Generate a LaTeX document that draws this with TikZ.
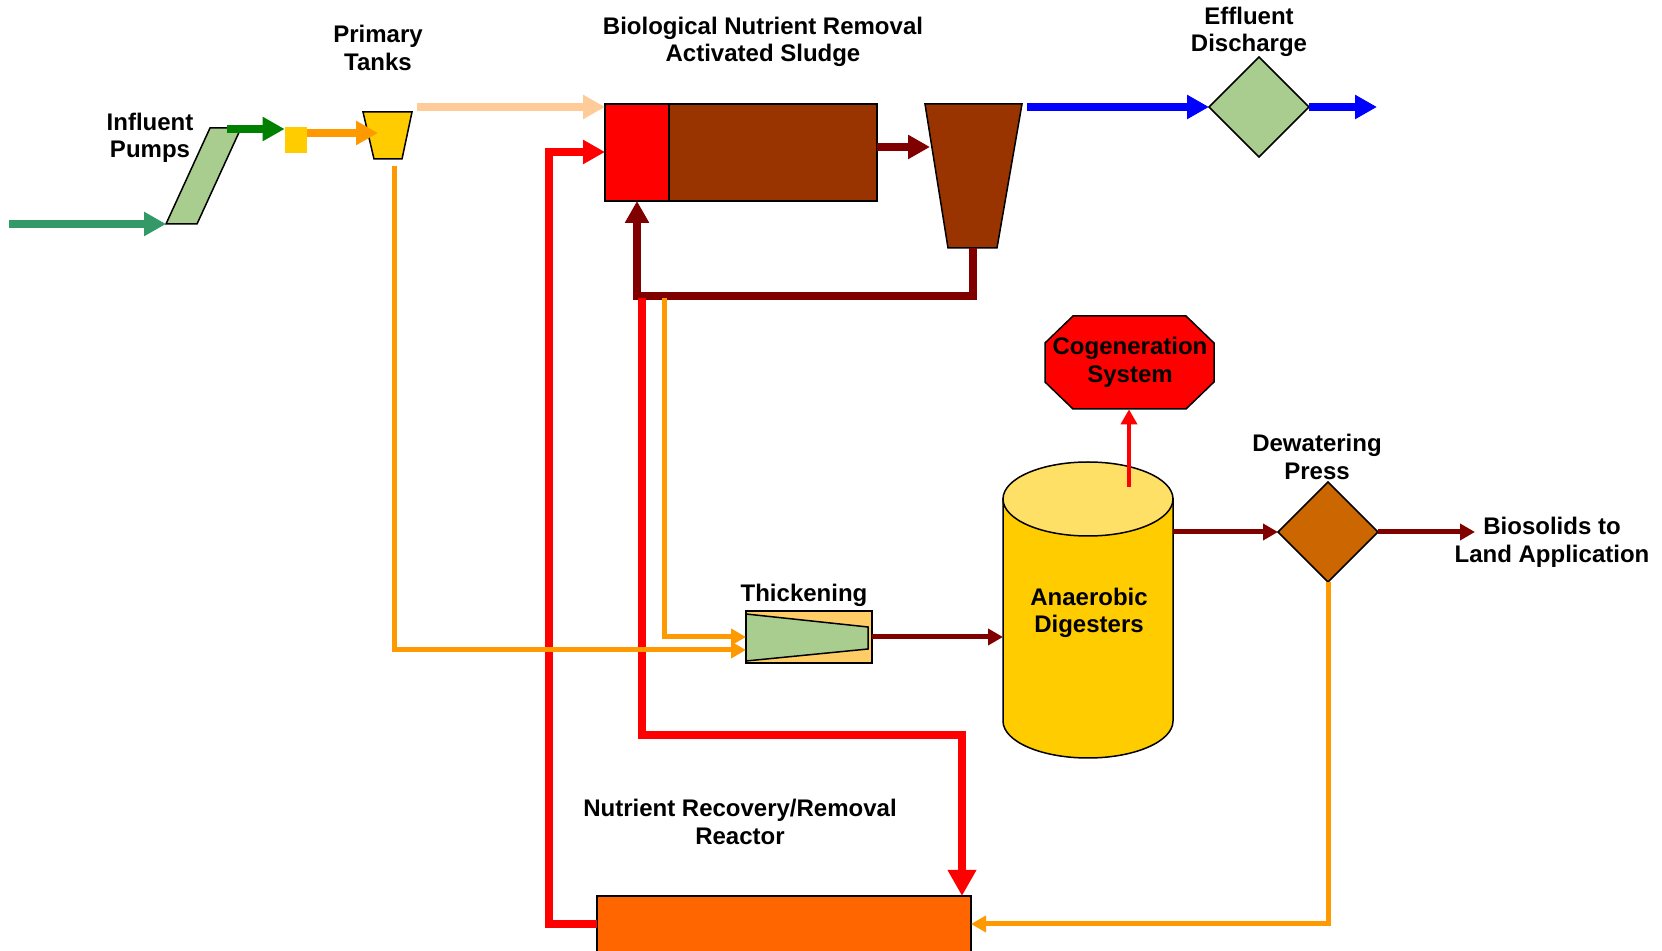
\documentclass[tikz,border=0pt]{standalone}
\usepackage{fontspec}
\setmainfont{Liberation Sans}
\usetikzlibrary{arrows.meta,positioning,shapes.geometric}

\definecolor{inflow}{HTML}{339966}
\definecolor{pumpgreen}{HTML}{A9CD8E}
\definecolor{liftgreen}{HTML}{008000}
\definecolor{tankyellow}{HTML}{FFCC00}
\definecolor{sludgeorange}{HTML}{FF9900}
\definecolor{peach}{HTML}{FFCC99}
\definecolor{mlbrown}{HTML}{993300}
\definecolor{rasred}{HTML}{800000}
\definecolor{thickbox}{HTML}{FFCC66}
\definecolor{digtop}{HTML}{FFE066}
\definecolor{pressbrown}{HTML}{CC6600}
\definecolor{reactororange}{HTML}{FF6600}

\tikzset{unit/.style={draw, line width=0.75pt, inner sep=0pt, outer sep=0pt},
         pipe/.style={line width=3.75pt, -{Triangle[length=11pt,width=11.5pt]}},
         thinpipe/.style={line width=2.5pt, -{Triangle[length=7.5pt,width=8pt]}},
         lbl/.style={align=center, font=\bfseries\fontsize{12}{13.8}\selectfont}}

\begin{document}
\begin{tikzpicture}[x=0.5pt, y=-0.5pt]
\useasboundingbox (0,0) rectangle (1662,951);
\clip (0,0) rectangle (1662,951);

% headworks
\filldraw[fill=pumpgreen, line width=0.75pt] (166,224) coordinate (pumpbl) -- (197,224) -- (241,128) -- (210,128) -- cycle;
\coordinate (inlet) at (9,224);
\coordinate (pumptop) at (227,129);
\node[fill=tankyellow, minimum width=11pt, minimum height=13pt, inner sep=0pt] (grit) at (296,140) {};
\filldraw[fill=tankyellow, line width=0.75pt] (363,112) -- (412,112) -- (402,159) -- (374,159) -- cycle;
\coordinate (ptin) at (378,133);
\coordinate (ptout) at (417,107);
\coordinate (ptunder) at (394,166);

% activated sludge and clarifier
\node[unit, fill=red, minimum width=32pt, minimum height=48.5pt] (bnr) at (637,152.5) {};
\node[unit, fill=mlbrown, minimum width=104pt, minimum height=48.5pt, right=0pt of bnr] (aer) {};
\filldraw[fill=mlbrown, line width=0.75pt] (925,104) -- (1022,104) -- (997,248) -- (948,248) -- cycle;
\coordinate (clarin) at (930,147);
\coordinate (clarbot) at (973,248);
\coordinate (rasturn) at (973,296);
\coordinate (efout) at (1027,107);
\node[unit, diamond, fill=pumpgreen, minimum width=50pt, minimum height=50pt] (eff) at (1259,107) {};
\coordinate (effend) at (1377,107);

% solids train
\node[unit, fill=thickbox, minimum width=63pt, minimum height=26pt] (thk) at (809,637) {};
\filldraw[fill=pumpgreen, line width=0.75pt] (746,614) -- (868,627) -- (868,649) -- (746,661) -- cycle;
\filldraw[fill=tankyellow, line width=0.75pt] (1003,499) -- (1003,721) arc[start angle=180, end angle=0, x radius=85, y radius=37] -- (1173,499) -- cycle;
\filldraw[fill=digtop, line width=0.75pt] (1088,499) ellipse[x radius=85, y radius=37];
\node[lbl] (dig) at (1089,613) {Anaerobic\\Digesters};
\coordinate (digin) at (1003,637);
\coordinate (digout) at (1173,532);
\coordinate (gasout) at (1129,487);
\filldraw[fill=red, line width=0.75pt] (1073,316) -- (1186,316) -- (1214,343) -- (1214,382) -- (1186,409)
   -- (1073,409) -- (1045,382) -- (1045,343) -- cycle;
\node[lbl, inner sep=0pt, minimum height=46.5pt] (cog) at (1130,362.5) {Cogeneration\\System};
\node[unit, diamond, fill=pressbrown, minimum width=50pt, minimum height=50pt] (press) at (1328,532) {};
\coordinate (bioend) at (1475,532);
\node[unit, fill=reactororange, minimum width=187pt, minimum height=28pt] (reac) at (784,924) {};
\coordinate (recyc) at (549,152);
\coordinate (nrtop) at (642,298);
\coordinate (nrturn) at (642,735);
\coordinate (wastop) at (664,298);

% flows
\draw[pipe, inflow] (inlet) -- (pumpbl);
\draw[pipe, liftgreen] (pumptop) -- (pumptop -| grit.west);
\draw[pipe, sludgeorange] (grit.east |- ptin) -- (ptin);
\draw[pipe, peach] (ptout) -- (ptout -| bnr.west);
\draw[pipe, rasred] (aer.east |- clarin) -- (clarin);
\draw[pipe, rasred] (clarbot) -- (rasturn) -| (bnr.south);
\draw[pipe, blue] (efout) -- (eff.west);
\draw[pipe, blue] (eff.east) -- (effend);
\draw[pipe, red] (reac.west) -| (recyc) -- (bnr.west |- recyc);
\draw[line width=3.75pt, red, -{Triangle[length=13pt,width=13.5pt]}] (nrtop) -- (nrturn) -| ([xshift=-4.5pt]reac.north east);
\draw[thinpipe, sludgeorange] (ptunder) |- ([yshift=-6.5pt]thk.west);
\draw[thinpipe, sludgeorange] (wastop) |- (thk.west);
\draw[thinpipe, rasred] (thk.east) -- (digin);
\draw[thinpipe, red, line width=2pt] (gasout) -- (gasout |- cog.south);
\draw[thinpipe, rasred] (digout) -- (press.west);
\draw[thinpipe, rasred] (press.east) -- (bioend);
\draw[thinpipe, sludgeorange] (press.south) |- (reac.east);

% labels
\node[lbl] (pumplbl) at (150,138) {Influent\\Pumps};
\node[lbl] (ptlbl) at (378,48) {Primary\\Tanks};
\node[lbl] (bnrlbl) at (763,42) {Biological Nutrient Removal\\Activated Sludge};
\node[lbl] (efflbl) at (1249,32) {Effluent\\Discharge};
\node[lbl] (thklbl) at (804,595) {Thickening};
\node[lbl] (presslbl) at (1317,457) {Dewatering\\Press};
\node[lbl] (biolbl) at (1552,542) {Biosolids to\\Land Application};
\node[lbl] (reaclbl) at (740,822) {Nutrient Recovery/Removal\\Reactor};
\end{tikzpicture}
\end{document}
